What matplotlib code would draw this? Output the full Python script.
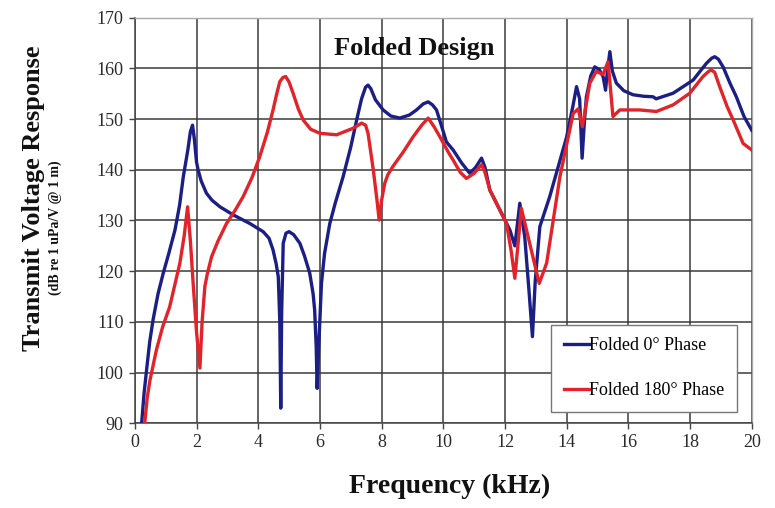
import matplotlib
matplotlib.use("Agg")
import matplotlib.pyplot as plt

# Transmit voltage response of the folded design, read in kHz / dB
freq_0deg = [0.22, 0.30, 0.38, 0.48, 0.59, 0.75, 0.92, 1.10, 1.30, 1.45, 1.57, 1.72,
             1.80, 1.87, 1.93, 2.00, 2.05, 2.15, 2.32, 2.50, 2.76, 3.19, 3.73, 4.16,
             4.35, 4.48, 4.58, 4.65, 4.70, 4.73, 4.76, 4.81, 4.90, 5.00, 5.15, 5.35,
             5.50, 5.67, 5.78, 5.83, 5.88, 5.91, 5.96, 6.05, 6.15, 6.32, 6.50, 6.75,
             7.00, 7.19, 7.35, 7.48, 7.56, 7.65, 7.80, 8.05, 8.30, 8.59, 8.90, 9.13,
             9.35, 9.51, 9.65, 9.78, 9.95, 10.10, 10.32, 10.60, 10.86, 11.05, 11.24,
             11.35, 11.51, 11.94, 12.16, 12.32, 12.48, 12.64, 12.78, 12.89, 12.98,
             13.13, 13.45, 14.00, 14.20, 14.32, 14.42, 14.50, 14.58, 14.64, 14.78,
             14.91, 15.05, 15.18, 15.26, 15.33, 15.40, 15.48, 15.61, 15.85, 16.15,
             16.50, 16.80, 16.90, 17.45, 18.10, 18.53, 18.70, 18.80, 18.92, 19.07,
             19.30, 19.50, 19.75, 20.00]
tvr_0deg = [90.0, 96.0, 100.5, 106.0, 110.4, 115.5, 119.6, 123.5, 128.1, 133.0, 138.6,
            144.0, 147.5, 148.8, 146.0, 141.5, 140.0, 137.8, 135.4, 134.0, 132.7, 131.1,
            129.4, 127.8, 126.5, 124.2, 121.5, 118.9, 110.0, 93.0, 112.0, 125.5, 127.5,
            127.8, 127.2, 125.5, 123.0, 119.6, 115.5, 112.3, 105.0, 96.9, 105.0, 117.6,
            123.5, 129.4, 133.5, 138.6, 144.5, 149.8, 154.0, 156.3, 156.7, 156.0, 153.8,
            151.8, 150.6, 150.2, 150.8, 151.8, 153.0, 153.4, 152.8, 151.8, 148.5, 145.5,
            143.9, 141.3, 139.3, 140.5, 142.3, 140.5, 136.0, 130.8, 128.1, 125.0, 133.4,
            126.8, 116.0, 107.1, 118.0, 128.8, 134.7, 146.5, 152.5, 156.4, 154.0, 142.3,
            150.0, 154.4, 158.5, 160.3, 159.8, 158.4, 155.7, 160.0, 163.3, 159.5, 157.1,
            155.6, 154.8, 154.5, 154.4, 154.0, 155.1, 157.7, 161.0, 162.0, 162.3, 161.8,
            160.3, 157.0, 154.4, 150.5, 147.8]

freq_180deg = [0.32, 0.40, 0.49, 0.70, 0.90, 1.13, 1.46, 1.60, 1.71, 1.80, 1.89, 2.00,
               2.11, 2.18, 2.27, 2.35, 2.49, 2.70, 2.97, 3.25, 3.51, 3.80, 4.05, 4.30,
               4.48, 4.60, 4.70, 4.80, 4.89, 5.00, 5.13, 5.30, 5.46, 5.70, 6.00, 6.54,
               7.08, 7.35, 7.48, 7.56, 7.73, 7.85, 7.92, 8.00, 8.10, 8.20, 8.37, 8.70,
               9.02, 9.30, 9.51, 9.70, 9.89, 10.16, 10.32, 10.55, 10.75, 11.00, 11.24,
               11.35, 11.51, 12.05, 12.20, 12.32, 12.53, 12.80, 13.11, 13.35, 13.78,
               14.21, 14.37, 14.51, 14.75, 14.96, 15.18, 15.34, 15.42, 15.50, 15.72,
               16.37, 16.91, 17.45, 17.99, 18.42, 18.60, 18.69, 18.80, 18.96, 19.20,
               19.40, 19.72, 20.00]
tvr_180deg = [90.0, 95.0, 98.5, 104.5, 109.0, 113.0, 121.6, 127.0, 132.7, 126.0, 117.6,
              108.0, 100.9, 110.0, 117.0, 119.5, 122.9, 126.0, 129.4, 132.0, 134.7, 138.5,
              142.6, 147.5, 151.8, 155.0, 157.4, 158.2, 158.4, 157.3, 155.1, 152.0, 149.8,
              148.0, 147.2, 146.9, 148.2, 149.2, 148.8, 147.2, 140.0, 134.0, 130.1, 134.0,
              137.3, 139.0, 140.7, 143.5, 146.5, 148.8, 150.2, 148.5, 146.5, 143.5, 141.9,
              139.5, 138.3, 139.3, 141.0, 139.5, 136.0, 129.4, 124.0, 118.6, 132.4, 125.5,
              117.6, 121.6, 138.6, 151.1, 152.0, 148.5, 157.1, 159.4, 158.8, 161.3, 156.0,
              150.5, 151.8, 151.8, 151.5, 152.8, 155.1, 158.4, 159.4, 159.7, 159.2, 156.4,
              152.5, 149.8, 145.2, 143.9]

x_ticks = list(range(0, 21, 2))
y_ticks = list(range(90, 171, 10))

plt.rcParams["font.family"] = ["Liberation Serif", "DejaVu Serif"]

fig = plt.figure(figsize=(7.75, 5.08), dpi=100)
ax = fig.add_axes([0.174, 0.1667, 0.796, 0.7985])

ax.plot(freq_0deg, tvr_0deg, color="#1b1e85", lw=2.4, label="Folded 0\u00b0 Phase",
        solid_joinstyle="round", zorder=3)
ax.plot(freq_180deg, tvr_180deg, color="#e2232a", lw=2.4, label="Folded 180\u00b0 Phase",
        solid_joinstyle="round", zorder=3)

ax.set_xlim(0, 20)
ax.set_ylim(90, 170)
ax.set_xticks(x_ticks)
ax.set_yticks(y_ticks)
ax.grid(True, color="#3a3a3a", lw=1.1)
ax.set_axisbelow(True)
ax.tick_params(direction="out", length=4, width=1, color="#444444",
               labelsize=13, labelcolor="#2a2a2a", pad=4)

for side in ("left", "bottom"):
    ax.spines[side].set_color("#444444")
    ax.spines[side].set_linewidth(1.1)
for side in ("top", "right"):
    ax.spines[side].set_color("#aaaaaa")
    ax.spines[side].set_linewidth(1.0)

ax.text(0.453, 0.925, "Folded Design", transform=ax.transAxes, ha="center",
        va="center", fontsize=19, fontweight="bold", color="#111111")

leg = ax.legend(loc="lower right", bbox_to_anchor=(0.976, 0.028), borderaxespad=0,
                fontsize=13, handlelength=1.4, handletextpad=0.0, labelspacing=1.55,
                borderpad=0.7, fancybox=False, framealpha=1, edgecolor="#777777")
leg.get_frame().set_linewidth(1.0)

fig.text(0.043, 1 - 198 / 508, "Transmit Voltage Response", rotation=90,
         ha="center", va="center", fontsize=19, fontweight="bold", color="#111111")
fig.text(0.071, 1 - 228 / 508, "(dB re 1 uPa/V @ 1 m)", rotation=90,
         ha="center", va="center", fontsize=10, fontweight="bold", color="#111111")
fig.text(450 / 775, 1 - 486 / 508, "Frequency (kHz)", ha="center", va="center",
         fontsize=20, fontweight="bold", color="#111111")

fig.savefig("out.png", dpi=100)
